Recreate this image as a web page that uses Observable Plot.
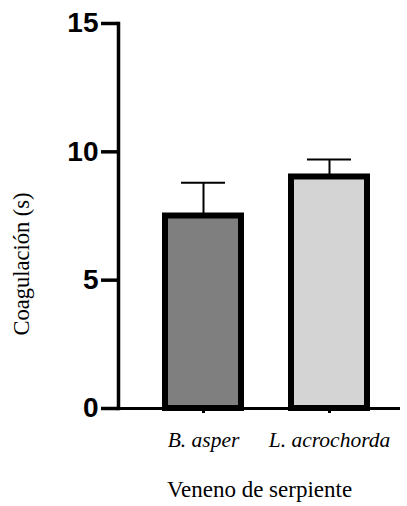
<!DOCTYPE html>
<html>
<head>
<meta charset="utf-8">
<script src="https://cdn.jsdelivr.net/npm/d3@7"></script>
<script src="https://cdn.jsdelivr.net/npm/@observablehq/plot@0.6"></script>
<style>
  html, body { margin: 0; padding: 0; background: #fff; }
  #chart svg { display: block; }
</style>
</head>
<body>
<div id="chart"></div>
<script>
// Coagulation time by snake venom (mean + SD)
const venoms = ["B. asper", "L. acrochorda"];
const means = [7.5, 9.02];
const sds = [1.3, 0.68];
const fills = ["#7f7f7f", "#d4d4d4"];
const yTicks = [0, 5, 10, 15];
const yLabel = "Coagulación (s)";
const xLabel = "Veneno de serpiente";

const data = venoms.map((v, i) => ({venom: v, mean: means[i], sd: sds[i], top: means[i] + sds[i], fill: fills[i]}));

const serif = "'Liberation Serif', 'Times New Roman', serif";
const sans = "'Liberation Sans', Arial, sans-serif";

const chart = Plot.plot({
  width: 407,
  height: 506,
  marginLeft: 118,
  marginRight: 7,
  marginTop: 23,
  marginBottom: 98,
  style: {background: "#fff", color: "#000"},
  x: {domain: venoms, range: [140, 392], paddingInner: 0.4, paddingOuter: 0.2},
  y: {domain: [0, 15]},
  marks: [
    Plot.barY(data, {x: "venom", y: "mean", fill: "fill", stroke: "#000", strokeWidth: 6}),
    Plot.ruleX(data, {x: "venom", y1: "mean", y2: "top", stroke: "#000", strokeWidth: 2}),
    Plot.tickY(data, {x: "venom", y: "top", stroke: "#000", strokeWidth: 2, insetLeft: 16, insetRight: 16}),
    Plot.ruleY([0], {stroke: "#000", strokeWidth: 3}),
    Plot.frame({anchor: "left", stroke: "#000", strokeWidth: 3.5}),
    Plot.axisY({
      ticks: yTicks, tickSize: 17, tickPadding: 3, strokeWidth: 3.5, label: null,
      fontSize: 28, fontFamily: sans, fontWeight: "bold"
    }),
    Plot.axisX({
      tickSize: 5, tickPadding: 18, strokeWidth: 3, label: null,
      fontSize: 21.5, fontFamily: serif, fontStyle: "italic"
    }),
    Plot.text([yLabel], {
      text: d => d, frameAnchor: "left", textAnchor: "middle", rotate: -90, dx: -97, dy: 48,
      fontSize: 22.5, fontFamily: serif, fill: "#000"
    }),
    Plot.text([xLabel], {
      text: d => d, frameAnchor: "bottom", dy: 88,
      fontSize: 23, fontFamily: serif, fill: "#000"
    })
  ]
});

document.getElementById("chart").append(chart);
</script>
</body>
</html>
